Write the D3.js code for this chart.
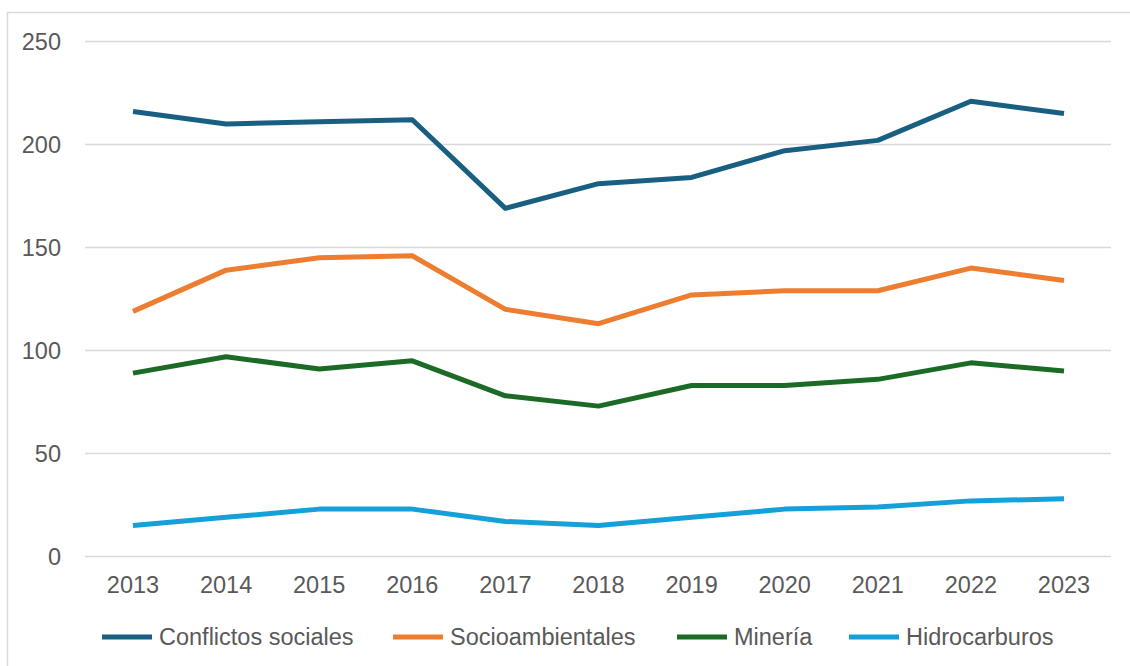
<!DOCTYPE html>
<html>
<head>
<meta charset="utf-8">
<script src="https://cdn.jsdelivr.net/npm/d3@7"></script>
<style>
  html, body { margin: 0; padding: 0; background: #fff; }
  svg { display: block; }
</style>
</head>
<body>
<svg id="chart" width="1130" height="666"></svg>
<script>
// Años y series de conflictos
const years = [2013, 2014, 2015, 2016, 2017, 2018, 2019, 2020, 2021, 2022, 2023];
const conflictosSociales = [216, 210, 211, 212, 169, 181, 184, 197, 202, 221, 215];
const socioambientales   = [119, 139, 145, 146, 120, 113, 127, 129, 129, 140, 134];
const mineria            = [89, 97, 91, 95, 78, 73, 83, 83, 86, 94, 90];
const hidrocarburos      = [15, 19, 23, 23, 17, 15, 19, 23, 24, 27, 28];
const yTicks = [0, 50, 100, 150, 200, 250];

const seriesNames  = ["Conflictos sociales", "Socioambientales", "Minería", "Hidrocarburos"];
const seriesColors = ["#185F82", "#ED7D31", "#1B6B26", "#14A0D9"];
const seriesValues = [conflictosSociales, socioambientales, mineria, hidrocarburos];

const svg = d3.select("#chart");
const font = "'Liberation Sans', Arial, sans-serif";
const fontSize = 23.5;
const textColor = "#595959";

// Marco del gráfico
svg.append("rect")
  .attr("x", 7.5).attr("y", 12.5)
  .attr("width", 1130).attr("height", 700)
  .attr("fill", "none").attr("stroke", "#d9d9d9").attr("stroke-width", 1.5);

const plotLeft = 85, plotRight = 1111;
const x = d3.scalePoint().domain(years).range([133, 1064]);
const y = d3.scaleLinear().domain([0, 250]).range([556.5, 41.5]);

// Líneas de cuadrícula
svg.append("g")
  .selectAll("line")
  .data(yTicks)
  .join("line")
  .attr("x1", plotLeft).attr("x2", plotRight)
  .attr("y1", d => y(d)).attr("y2", d => y(d))
  .attr("stroke", "#d9d9d9").attr("stroke-width", 1.5);

// Etiquetas del eje Y
svg.append("g")
  .selectAll("text")
  .data(yTicks)
  .join("text")
  .attr("x", 61).attr("y", d => y(d))
  .attr("dy", "0.36em")
  .attr("text-anchor", "end")
  .attr("font-family", font).attr("font-size", fontSize)
  .attr("fill", textColor)
  .text(d => d);

// Etiquetas del eje X
svg.append("g")
  .selectAll("text")
  .data(years)
  .join("text")
  .attr("x", d => x(d)).attr("y", 585)
  .attr("dy", "0.36em")
  .attr("text-anchor", "middle")
  .attr("font-family", font).attr("font-size", fontSize)
  .attr("fill", textColor)
  .text(d => d);

// Series
const line = d3.line()
  .x((d, i) => x(years[i]))
  .y(d => y(d));

svg.append("g")
  .selectAll("path")
  .data(seriesValues)
  .join("path")
  .attr("d", d => line(d))
  .attr("fill", "none")
  .attr("stroke", (d, i) => seriesColors[i])
  .attr("stroke-width", 5)
  .attr("stroke-linejoin", "round");

// Leyenda
const legendX = [102, 393, 677, 849];
const legendY = 637;
const lg = svg.append("g");
seriesNames.forEach((name, i) => {
  lg.append("line")
    .attr("x1", legendX[i]).attr("x2", legendX[i] + 50)
    .attr("y1", legendY).attr("y2", legendY)
    .attr("stroke", seriesColors[i]).attr("stroke-width", 5);
  lg.append("text")
    .attr("x", legendX[i] + 57).attr("y", legendY)
    .attr("dy", "0.36em")
    .attr("font-family", font).attr("font-size", fontSize)
    .attr("fill", textColor)
    .text(name);
});
</script>
</body>
</html>
